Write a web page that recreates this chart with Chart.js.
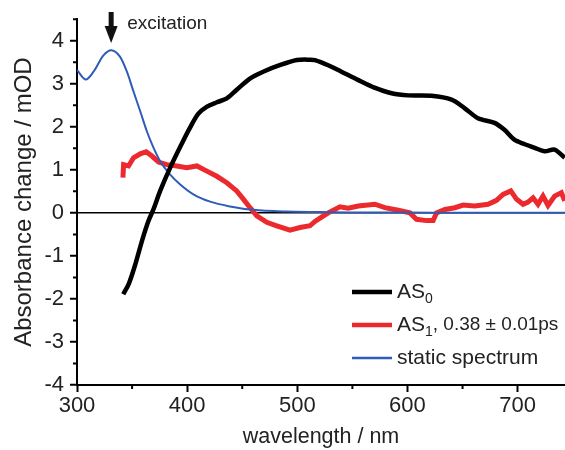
<!DOCTYPE html>
<html>
<head>
<meta charset="utf-8">
<script src="https://cdn.jsdelivr.net/npm/chart.js@4.4.0/dist/chart.umd.min.js"></script>
<style>
    html, body { margin: 0; padding: 0; background: #fff; }
    #wrap { width: 565px; height: 450px; }
</style>
</head>
<body>
<div id="wrap"><canvas id="spectra" width="565" height="450"></canvas></div>
<script>
// AS0 (black)
const as0Wavelength = [342, 347, 353, 359, 365, 369.5, 375.5, 384.6, 395, 402, 410, 418, 427, 436, 445, 457, 469, 484, 499.5, 511.5, 516, 528, 540, 555, 570, 585.6, 600.6, 621.8, 640, 652, 664, 679, 688, 697, 706, 715.5, 724.6, 733.6, 742.7];
const as0Values = [-1.89, -1.65, -1.19, -0.65, -0.18, 0.09, 0.51, 1.05, 1.6, 1.95, 2.3, 2.47, 2.57, 2.66, 2.86, 3.12, 3.28, 3.43, 3.55, 3.56, 3.55, 3.43, 3.28, 3.09, 2.91, 2.78, 2.73, 2.72, 2.63, 2.43, 2.20, 2.09, 1.93, 1.70, 1.60, 1.51, 1.43, 1.47, 1.28];

// AS1, 0.38 ps (red)
const as1Wavelength = [341.7, 342.3, 346.8, 351.3, 357.4, 362.8, 368, 374, 381.6, 390.7, 399.7, 408.8, 417.9, 426.9, 436, 445, 451, 457.1, 463.2, 472.3, 481.3, 493.4, 502.4, 511.5, 516, 522, 528.1, 538.7, 546.2, 555.3, 570.4, 579.5, 591.6, 602.2, 608.2, 617.3, 623.3, 626.4, 634, 643, 650.5, 661.1, 673.2, 680.8, 686.8, 693.8, 698.9, 704.9, 709.4, 714, 718.5, 723, 727.6, 733.6, 739.7, 742.7];
const as1Values = [0.82, 1.12, 1.09, 1.28, 1.37, 1.42, 1.32, 1.18, 1.12, 1.09, 1.05, 1.09, 0.97, 0.85, 0.70, 0.51, 0.32, 0.12, -0.07, -0.22, -0.30, -0.40, -0.34, -0.30, -0.20, -0.10, 0.0, 0.14, 0.11, 0.16, 0.20, 0.12, 0.06, 0.0, -0.15, -0.18, -0.18, 0.0, 0.08, 0.12, 0.18, 0.16, 0.20, 0.29, 0.43, 0.51, 0.32, 0.20, 0.25, 0.35, 0.20, 0.39, 0.17, 0.39, 0.47, 0.28];

// static absorption spectrum (blue)
const staticWavelength = [300, 308, 315, 324, 331, 339, 345.3, 351.3, 357.4, 363.5, 369.5, 375.5, 384.6, 393.7, 405.7, 420.9, 439, 460, 490, 520, 560, 600, 650, 700, 743];
const staticValues = [3.32, 3.10, 3.28, 3.66, 3.78, 3.63, 3.28, 2.82, 2.36, 1.89, 1.51, 1.20, 0.89, 0.66, 0.43, 0.26, 0.15, 0.07, 0.03, 0.02, 0.01, 0.01, 0.0, 0.0, 0.0];

const xMajorTicks = [300, 400, 500, 600, 700];
const xMinorTicks = [350, 450, 550, 650];
const yMajorTicks = [-4, -3, -2, -1, 0, 1, 2, 3, 4];
const yMinorTicks = [-3.5, -2.5, -1.5, -0.5, 0.5, 1.5, 2.5, 3.5, 4.5];

const legendLabels = [
    { base: 'AS', sub: '0', rest: '', color: '#000000', width: 4.5 },
    { base: 'AS', sub: '1', rest: ', 0.38 \u00b1 0.01ps', color: '#ec2a2e', width: 4.5 },
    { base: 'static spectrum', sub: '', rest: '', color: '#2f5cb8', width: 2.5 }
];
const excitationWavelength = 331;
const excitationLabel = 'excitation';

const FONT = "'Liberation Sans', Arial, sans-serif";

function toPoints(xs, ys) {
    return xs.map((x, i) => ({ x, y: ys[i] }));
}

// small ticks between the labelled ones
const minorTicks = {
    id: 'minorTicks',
    afterDraw(chart) {
        const { ctx, chartArea, scales } = chart;
        ctx.save();
        ctx.strokeStyle = '#000';
        ctx.lineWidth = 2;
        ctx.beginPath();
        xMinorTicks.forEach(v => {
            const px = scales.x.getPixelForValue(v);
            ctx.moveTo(px, chartArea.bottom);
            ctx.lineTo(px, chartArea.bottom + 4);
        });
        yMinorTicks.forEach(v => {
            const py = scales.y.getPixelForValue(v);
            ctx.moveTo(chartArea.left, py);
            ctx.lineTo(chartArea.left - 4, py);
        });
        ctx.stroke();
        ctx.restore();
    }
};

// legend in the lower right, with subscripts
const insideLegend = {
    id: 'insideLegend',
    afterDraw(chart) {
        const { ctx } = chart;
        const x0 = 352, lineLen = 40, textX = 397;
        const rows = [292, 325, 358];
        ctx.save();
        ctx.textBaseline = 'middle';
        ctx.fillStyle = '#222';
        legendLabels.forEach((item, i) => {
            const y = rows[i];
            ctx.strokeStyle = item.color;
            ctx.lineWidth = item.width;
            ctx.beginPath();
            ctx.moveTo(x0, y);
            ctx.lineTo(x0 + lineLen, y);
            ctx.stroke();

            let tx = textX;
            ctx.font = `21px ${FONT}`;
            ctx.fillText(item.base, tx, y);
            tx += ctx.measureText(item.base).width;
            if (item.sub) {
                ctx.font = `14px ${FONT}`;
                ctx.fillText(item.sub, tx, y + 7);
                tx += ctx.measureText(item.sub).width;
            }
            if (item.rest) {
                ctx.font = `19px ${FONT}`;
                ctx.fillText(item.rest, tx, y);
            }
        });
        ctx.restore();
    }
};

// arrow marking the excitation wavelength
const excitationArrow = {
    id: 'excitationArrow',
    afterDraw(chart) {
        const { ctx, scales } = chart;
        const px = scales.x.getPixelForValue(excitationWavelength);
        ctx.save();
        ctx.fillStyle = '#111';
        ctx.fillRect(px - 2.5, 12, 5, 16);
        ctx.beginPath();
        ctx.moveTo(px - 6.5, 26);
        ctx.lineTo(px + 6.5, 26);
        ctx.lineTo(px, 43);
        ctx.closePath();
        ctx.fill();
        ctx.font = `19px ${FONT}`;
        ctx.fillStyle = '#222';
        ctx.textBaseline = 'alphabetic';
        ctx.fillText(excitationLabel, px + 16, 29);
        ctx.restore();
    }
};

new Chart(document.getElementById('spectra'), {
    type: 'scatter',
    data: {
        datasets: [
            {
                label: 'AS0',
                data: toPoints(as0Wavelength, as0Values),
                showLine: true,
                borderColor: '#000000',
                borderWidth: 4.5,
                pointRadius: 0,
                tension: 0.3
            },
            {
                label: 'static spectrum',
                data: toPoints(staticWavelength, staticValues),
                showLine: true,
                borderColor: '#2f5cb8',
                borderWidth: 2,
                pointRadius: 0,
                cubicInterpolationMode: 'monotone'
            },
            {
                label: 'AS1, 0.38 ± 0.01ps',
                data: toPoints(as1Wavelength, as1Values),
                showLine: true,
                borderColor: '#ec2a2e',
                borderWidth: 5,
                pointRadius: 0,
                tension: 0
            }
        ]
    },
    options: {
        responsive: false,
        animation: false,
        devicePixelRatio: 1,
        layout: { padding: { top: 17, right: 0, bottom: 0, left: 0 } },
        plugins: {
            legend: { display: false },
            tooltip: { enabled: false }
        },
        scales: {
            x: {
                type: 'linear',
                min: 300,
                max: 743,
                afterBuildTicks: scale => {
                    scale.ticks = xMajorTicks.map(v => ({ value: v }));
                },
                afterFit: scale => { scale.height = 65; },
                border: { display: true, color: '#000', width: 2 },
                grid: {
                    drawOnChartArea: false,
                    drawTicks: true,
                    tickLength: 7,
                    tickWidth: 2,
                    tickColor: '#000'
                },
                ticks: {
                    padding: 1,
                    color: '#222',
                    font: { family: FONT, size: 22 },
                    maxRotation: 0
                },
                title: {
                    display: true,
                    text: 'wavelength / nm',
                    color: '#222',
                    font: { family: FONT, size: 21.5 },
                    padding: { top: 0, bottom: 0 }
                }
            },
            y: {
                type: 'linear',
                min: -4,
                max: 4.5,
                afterBuildTicks: scale => {
                    scale.ticks = yMajorTicks.map(v => ({ value: v }));
                },
                afterFit: scale => { scale.width = 77; },
                border: { display: true, color: '#000', width: 2 },
                grid: {
                    drawOnChartArea: true,
                    color: ctx => (ctx.tick && ctx.tick.value === 0 ? '#000' : 'rgba(0,0,0,0)'),
                    lineWidth: 1.5,
                    drawTicks: true,
                    tickLength: 7,
                    tickWidth: 2,
                    tickColor: '#000'
                },
                ticks: {
                    padding: 6,
                    color: '#222',
                    font: { family: FONT, size: 22 }
                },
                title: {
                    display: true,
                    text: 'Absorbance change / mOD',
                    color: '#222',
                    font: { family: FONT, size: 24 },
                    padding: { top: 10, bottom: 0 }
                }
            }
        }
    },
    plugins: [minorTicks, insideLegend, excitationArrow]
});
</script>
</body>
</html>
